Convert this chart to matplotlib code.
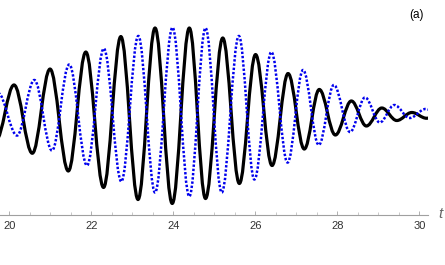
import numpy as np
import matplotlib
matplotlib.use("Agg")
import matplotlib.pyplot as plt
from matplotlib.path import Path
from matplotlib.patches import PathPatch
from matplotlib.ticker import MultipleLocator

plt.rcParams['font.family'] = ['Liberation Sans', 'DejaVu Sans']

# extrema of the two oscillations (t, amplitude)
t_black = [19.676, 20.115, 20.561, 20.993, 21.439, 21.866, 22.298, 22.720, 23.139, 23.554,
           23.973, 24.390, 24.785, 25.205, 25.610, 26.005, 26.407, 26.798, 27.193, 27.559,
           27.951, 28.341, 28.707, 29.083, 29.449, 29.815, 30.176, 30.529]
y_black = [-0.256, 0.356, -0.403, 0.533, -0.600, 0.722, -0.783, 0.894, -0.917, 0.989,
           -0.961, 0.989, -0.906, 0.878, -0.739, 0.694, -0.539, 0.483, -0.356, 0.306,
           -0.200, 0.178, -0.100, 0.100, -0.039, 0.050, -0.014, 0.033]

t_blue = [19.724, 20.188, 20.610, 21.041, 21.461, 21.895, 22.305, 22.732, 23.146, 23.554,
          23.980, 24.390, 24.785, 25.180, 25.598, 25.976, 26.390, 26.785, 27.163, 27.546,
          27.915, 28.310, 28.676, 29.034, 29.388, 29.766, 30.151, 30.529]
y_blue = [0.267, -0.206, 0.411, -0.372, 0.583, -0.539, 0.761, -0.717, 0.900, -0.839,
          0.994, -0.883, 0.989, -0.839, 0.900, -0.694, 0.722, -0.506, 0.522, -0.311,
          0.356, -0.167, 0.217, -0.061, 0.133, -0.011, 0.089, 0.011]

xticks = [20, 22, 24, 26, 28, 30]


def smooth_path(ts, ys, k=0.364):
    # cubic bezier segments with flat tangents at each extremum
    verts = [(ts[0], ys[0])]
    codes = [Path.MOVETO]
    for i in range(len(ts) - 1):
        h = ts[i + 1] - ts[i]
        verts += [(ts[i] + k * h, ys[i]), (ts[i + 1] - k * h, ys[i + 1]), (ts[i + 1], ys[i + 1])]
        codes += [Path.CURVE4] * 3
    return Path(verts, codes)


fig = plt.figure(figsize=(4.45, 2.65), dpi=100)
ax = fig.add_axes([0, 50 / 265, 428 / 445, 210 / 265])

ax.add_patch(PathPatch(smooth_path(t_black, y_black), fill=False, color='black', lw=2.3,
                       capstyle='butt', joinstyle='round'))
ax.add_patch(PathPatch(smooth_path(t_blue, y_blue), fill=False, color='#0000ee', lw=1.8,
                       linestyle=(0, (0.95, 0.75)), capstyle='butt'))

ax.set_xlim(19.773, 30.21)
ax.set_ylim(-98 / 90, 112 / 90)

for s in ['left', 'right', 'top']:
    ax.spines[s].set_visible(False)
ax.spines['bottom'].set_color('#a0a0a0')
ax.spines['bottom'].set_linewidth(0.8)
ax.set_yticks([])
ax.set_xticks(xticks)
ax.set_xticklabels([str(v) for v in xticks])
ax.xaxis.set_minor_locator(MultipleLocator(0.5))
ax.tick_params(axis='x', which='major', direction='in', length=3.2, width=0.7,
               color='#b0b0b0', labelsize=8, labelcolor='#333333', pad=4)
ax.tick_params(axis='x', which='minor', direction='in', length=1.9, width=0.6, color='#c0c0c0')

fig.text(440 / 445, 1 - 214 / 265, 't', fontsize=11, style='italic', color='#666666',
         ha='center', va='center')
fig.text(417 / 445, 1 - 15 / 265, '(a)', fontsize=8.5, color='black', ha='center', va='center')

fig.savefig('out.png', dpi=100)
